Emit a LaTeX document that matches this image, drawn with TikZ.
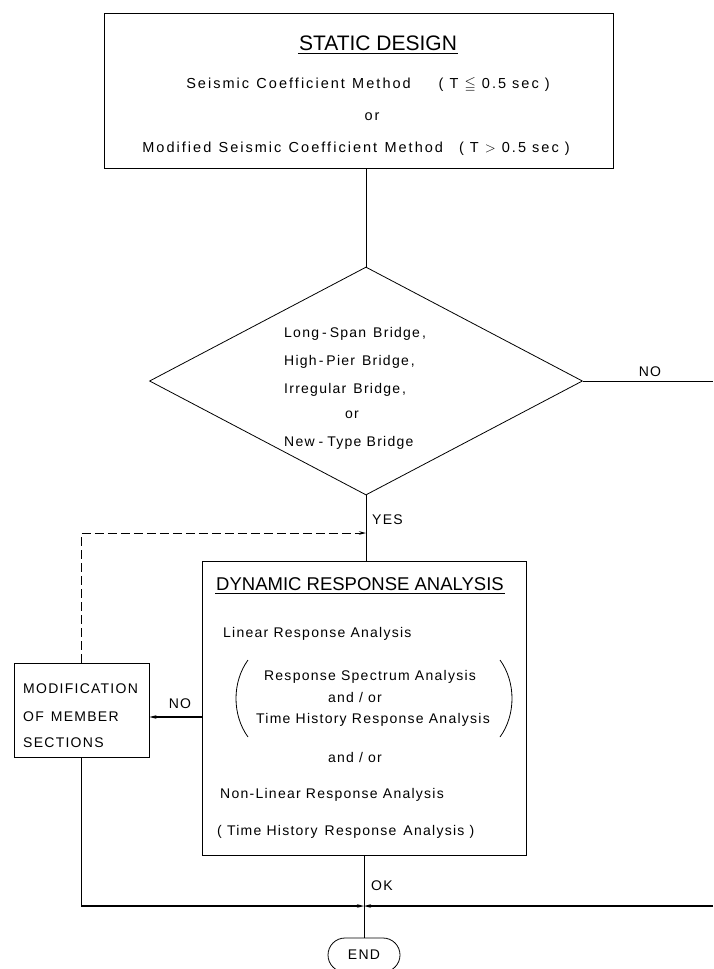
\documentclass[tikz,border=0pt]{standalone}
\usepackage{amssymb}
\usepackage{fontspec}
\usetikzlibrary{shapes.geometric,shapes.misc,arrows.meta}
\newfontfamily\plt[LetterSpace=9]{Liberation Sans}
\newfontfamily\pltw[LetterSpace=14]{Liberation Sans}
\newfontfamily\pltt{Liberation Sans}
\tikzset{
  bx/.style={draw, line width=0.8pt, inner sep=0pt},
  tx/.style={inner sep=0pt, anchor=base, font=\plt\fontsize{14}{16}\selectfont},
  txw/.style={inner sep=0pt, anchor=base, font=\pltw\fontsize{14.5}{16}\selectfont},
  ttl/.style={inner sep=0pt, anchor=base, font=\pltt\fontsize{21}{24}\selectfont},
  ln/.style={line width=0.8pt},
  thk/.style={line width=1.2pt},
  arr/.style={-{Stealth[length=7pt,width=3.5pt]}},
  dsh/.style={line width=0.9pt, dash pattern=on 9pt off 4pt},
}
\begin{document}
\begin{tikzpicture}[x=1pt,y=-1pt]
\useasboundingbox (0,0) rectangle (713,969);
% boxes
\node[bx, minimum width=509pt, minimum height=155pt] (static) at (358.5,90.5) {};
\node[diamond, draw, line width=0.8pt, inner sep=0pt, minimum width=433pt, minimum height=228pt] (dec) at (366,381) {};
\node[bx, minimum width=324pt, minimum height=294pt] (dyn) at (364,708) {};
\node[bx, minimum width=135pt, minimum height=94pt] (mod) at (81.5,710) {};
\node[rounded rectangle, draw, line width=0.8pt, inner sep=0pt, minimum width=72pt, minimum height=34pt, font=\plt\fontsize{14}{16}\selectfont] (endn) at (364,955) {END};
% static design texts
\node[ttl] (t1) at (378,50) {STATIC DESIGN};
\draw[ln] ([xshift=-1pt,yshift=-3pt]t1.base west) -- ([xshift=1pt,yshift=-3pt]t1.base east);
\node[txw] (t2) at (368,88) {Seismic\enspace Coefficient\enspace Method\hspace{28pt}( T $\leqq$ 0.5 sec )};
\node[txw] (t3) at (372,120) {or};
\node[txw] (t4) at (356,152) {Modified\enspace Seismic\enspace Coefficient\enspace Method\hspace{16pt}( T $>$ 0.5 sec )};
% diamond texts
\node[tx, anchor=base west] (d1) at (284,337) {Long\kern3pt-\kern3pt Span\enspace Bridge\kern2pt,};
\node[tx, anchor=base west] (d2) at (284,365) {High\kern2pt-\kern3pt Pier\enspace Bridge\kern2pt,};
\node[tx, anchor=base west] (d3) at (284,393) {Irregular\enspace Bridge\kern2pt,};
\node[tx] (d4) at (352,418) {or};
\node[tx, anchor=base west] (d5) at (284,446) {New\kern4pt-\kern4pt Type Bridge};
% dynamic texts
\node[ttl, font=\pltt\fontsize{18.5}{22}\selectfont] (y1) at (360,590) {DYNAMIC RESPONSE ANALYSIS};
\draw[ln] ([xshift=-1pt,yshift=-3.5pt]y1.base west) -- ([xshift=1pt,yshift=-3.5pt]y1.base east);
\node[tx, anchor=base west] (y2) at (223,637) {Linear Response Analysis};
\node[tx] (y3) at (370,680) {Response Spectrum Analysis};
\node[tx] (y4) at (355,702) {and / or};
\node[tx] (y5) at (373,723) {Time History Response Analysis};
\node[tx] (y6) at (355,762) {and / or};
\node[tx, anchor=base west] (y7) at (220,798) {Non-Linear Response Analysis};
\node[tx, anchor=base west] (y8) at (217,835) {( Time History\enspace Response\enspace Analysis )};
\draw[ln] (248,660) .. controls (232,682) and (232,715) .. (248,737);
\draw[ln] (500,660) .. controls (516,682) and (516,715) .. (500,737);
% modification texts
\node[tx, anchor=base west] (m1) at (23,693) {MODIFICATION};
\node[tx, anchor=base west] (m2) at (23,721) {OF\enspace MEMBER};
\node[tx, anchor=base west] (m3) at (23,747) {SECTIONS};
% coordinates
\coordinate (dj) at (366,533);
\coordinate (noL) at (0,717);
\coordinate (join) at (364,906);
\coordinate (rightb) at (713,906);
\coordinate (rightn) at (713,381);
% connectors
\draw[ln] (dec.north |- static.south) -- (dec.north);
\draw[ln] (dec.south) -- (dec.south |- dyn.north);
\draw[dsh, arr] (mod.north) |- (dj);
\draw[thk, arr] (dyn.west |- noL) -- (mod.east |- noL);
\draw[ln] (dec.east) -- (rightn);
\draw[thk, arr] (mod.south) |- (join);
\draw[thk, arr] (rightb) -- (join);
\draw[ln] (dyn.south) -- (endn.north);
% labels
\node[tx, anchor=base west] (lyes) at (372,524) {YES};
\node[tx] (lnoL) at (180,708) {NO};
\node[tx] (lnoR) at (650,376) {NO};
\node[tx, anchor=base west] (lok) at (371,890) {OK};
\end{tikzpicture}
\end{document}
